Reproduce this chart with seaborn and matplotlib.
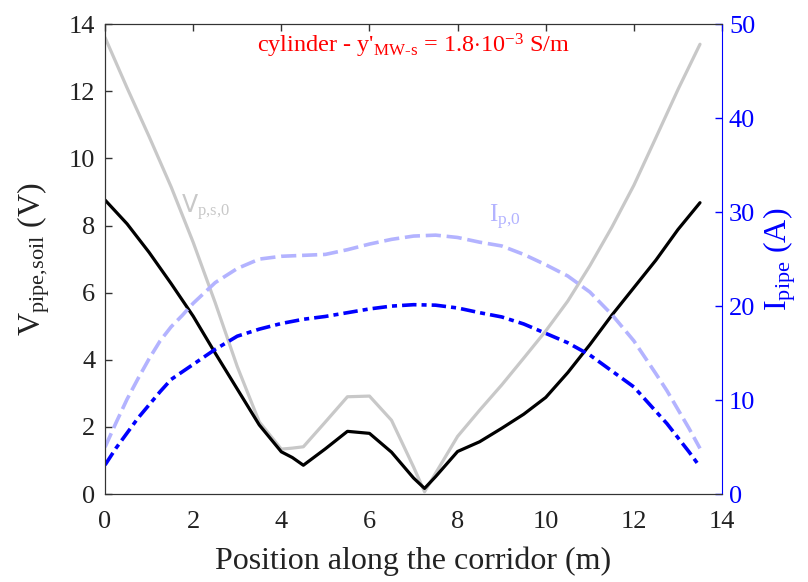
import numpy as np
import pandas as pd
import matplotlib
matplotlib.use("Agg")
import matplotlib.pyplot as plt
import seaborn as sns

sns.set_style("white")
plt.rcParams['font.family'] = ['Liberation Serif', 'DejaVu Serif']
plt.rcParams['mathtext.fontset'] = 'custom'
plt.rcParams['mathtext.rm'] = 'Liberation Serif'
plt.rcParams['mathtext.it'] = 'Liberation Serif:italic'

# position along the corridor (m)
x_v = [0, 0.5, 1.0, 1.5, 2.0, 2.5, 3.0, 3.5, 4.0, 4.25, 4.5, 5.0, 5.5, 6.0, 6.5,
       7.0, 7.25, 7.5, 8.0, 8.5, 9.0, 9.5, 10.0, 10.5, 11.0, 11.5, 12.0, 12.5, 13.0, 13.5]
# pipe-soil voltage (V), with mitigation
v_pipe_soil = [8.76, 8.05, 7.2, 6.27, 5.3, 4.2, 3.13, 2.06, 1.26, 1.09, 0.86, 1.35, 1.87, 1.81, 1.25,
               0.48, 0.17, 0.52, 1.27, 1.56, 1.96, 2.38, 2.88, 3.62, 4.45, 5.33, 6.15, 6.97, 7.88, 8.68]
# pipe-soil voltage (V), reference case
v_ps0 = [13.6, 12.1, 10.65, 9.15, 7.5, 5.7, 3.8, 2.15, 1.34, 1.37, 1.41, 2.15, 2.9, 2.92, 2.2,
         0.81, 0.07, 0.62, 1.72, 2.5, 3.25, 4.05, 4.86, 5.75, 6.8, 7.95, 9.2, 10.62, 12.05, 13.4]

x_i = [0, 0.25, 0.5, 0.75, 1.0, 1.25, 1.5, 1.75, 2.0, 2.5, 3.0, 3.5, 4.0, 4.5, 5.0, 5.5, 6.0, 6.5, 7.0,
       7.5, 8.0, 8.5, 9.0, 9.5, 10.0, 10.5, 11.0, 11.5, 12.0, 12.5, 12.75, 13.0, 13.25, 13.5]
# pipe current (A)
i_p0 = [5.0, 7.6, 10.1, 12.3, 14.4, 16.3, 17.8, 19.0, 20.3, 22.5, 24.0, 25.0, 25.3, 25.4, 25.5,
        26.0, 26.6, 27.1, 27.45, 27.55, 27.3, 26.8, 26.4, 25.5, 24.4, 23.2, 21.5, 19.1, 16.3,
        12.8, 11.0, 9.0, 7.0, 4.86]
i_pipe = [3.1, 4.9, 6.5, 8.1, 9.5, 10.9, 12.2, 13.0, 13.8, 15.4, 16.8, 17.55, 18.15, 18.6, 18.9,
          19.3, 19.7, 20.0, 20.15, 20.1, 19.8, 19.3, 18.85, 18.1, 17.1, 16.1, 14.8, 13.1, 11.4,
          8.8, 7.5, 6.0, 4.5, 2.9]

fig = plt.figure(figsize=(8.08, 5.82), dpi=100)
ax = fig.add_axes([0.130, 0.151, 0.7636, 0.8076])
ax2 = ax.twinx()

sns.lineplot(x=x_v, y=v_ps0, ax=ax, color='#c8c8c8', linewidth=2.3)
sns.lineplot(x=x_v, y=v_pipe_soil, ax=ax, color='black', linewidth=2.3)
sns.lineplot(x=x_i, y=i_p0, ax=ax2, color='#b3b3ff', linewidth=2.6, dashes=(4.2, 1.6))
sns.lineplot(x=x_i, y=i_pipe, ax=ax2, color='blue', linewidth=2.6, dashes=(4.0, 1.4, 1.4, 1.4))

ax.set_xlim(0, 14)
ax.set_ylim(0, 14)
ax2.set_ylim(0, 50)
ax.set_xticks(np.arange(0, 15, 2))
ax.set_yticks(np.arange(0, 15, 2))
ax2.set_yticks(np.arange(0, 51, 10))

ax.tick_params(axis='both', direction='in', length=5, width=1, labelsize=19,
               colors='#333333', top=True, right=False)
ax.tick_params(axis='x', pad=12)
ax.tick_params(axis='y', pad=7)
ax.tick_params(axis='both', labelcolor='#222222')
ax2.tick_params(axis='y', direction='in', length=5, width=1, labelsize=19,
                colors='blue', pad=5)

for s in ['left', 'bottom', 'top']:
    ax.spines[s].set_color('#333333')
    ax2.spines[s].set_color('#333333')
ax2.spines['right'].set_color('blue')
ax.spines['right'].set_visible(False)

ax.set_xlabel('Position along the corridor (m)', fontsize=23, color='#222222', labelpad=10)
ax.set_ylabel(r'V$_{\rm pipe{,}soil}$ (V)', fontsize=23, color='#222222', labelpad=12)
ax2.set_ylabel(r'I$_{\rm pipe}$ (A)', fontsize=23, color='blue', labelpad=4)

ax.text(0.5, 0.94, r"cylinder - y'$_{\rm MW\text{-}s}$ = 1.8$\cdot$10$^{-3}$ S/m",
        transform=ax.transAxes, ha='center', va='baseline', color='red', fontsize=17.5)
ax.text(1.72, 8.37, r'V$_{\rm p{,}s{,}0}$', color='#c8c8c8', fontsize=17,
        family='DejaVu Sans', va='baseline')
ax.text(8.72, 8.1, r'I$_{\rm p{,}0}$', color='#b3b3ff', fontsize=18, va='baseline')

fig.savefig('out.png', dpi=100)
